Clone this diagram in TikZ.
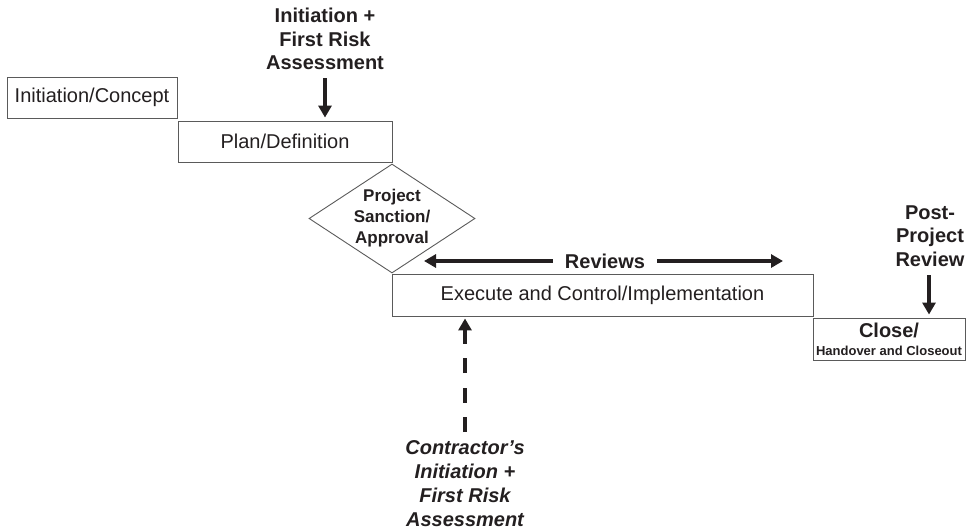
\documentclass[tikz,border=0pt]{standalone}
\usepackage{fontspec}
\setmainfont{Liberation Sans}
\usetikzlibrary{shapes.geometric,arrows.meta,calc}
\definecolor{ink}{HTML}{231F20}
\definecolor{frame}{HTML}{5A5A5A}
\begin{document}
\begin{tikzpicture}[x=1pt,y=-1pt,
  phase/.style={draw=frame,line width=0.9pt,rectangle,inner sep=0pt,text=ink,font=\fontsize{20}{23}\selectfont},
  gate/.style={draw=frame,line width=0.9pt,diamond,inner sep=0pt},
  gatetext/.style={text=ink,align=center,inner sep=0pt,font=\bfseries\fontsize{17}{21}\selectfont},
  tag/.style={text=ink,align=center,inner sep=0pt,font=\bfseries\fontsize{20}{23.5}\selectfont},
  itag/.style={tag,font=\bfseries\itshape\fontsize{20}{24}\selectfont},
  bigarrow/.style={draw=ink,line width=3.6pt,-{Triangle[width=13pt,length=12pt]}}
]
\useasboundingbox (0,0) rectangle (968,531);

% phase boxes
\node[phase,minimum width=170pt,minimum height=41pt] (concept) at (92,97.5) {Initiation/Concept};
\node[phase,minimum width=214pt,minimum height=41pt] (plan) at (285,141.5) {Plan/Definition};
\node[gate,minimum width=166pt,minimum height=109pt] (sanction) at (392,218.5) {};
\node[gatetext] (sanctiontext) at (sanction.center) {Project\\Sanction/\\Approval};
\node[phase,minimum width=421pt,minimum height=42pt] (execute) at (602.5,295) {Execute and Control/Implementation};
\node[phase,minimum width=152pt,minimum height=42pt,align=center] (close) at (889,339)
  {\textbf{Close/}\\[-5pt]{\bfseries\fontsize{13}{14}\selectfont Handover and Closeout}};

% labels
\node[tag] (initrisk) at (325,39) {Initiation +\\First Risk\\Assessment};
\node[tag] (reviews) at (605,261) {Reviews};
\node[tag] (postreview) at (930,236) {Post-\\Project\\Review};
\node[itag] (contractor) at (465,484) {Contractor’s\\Initiation +\\First Risk\\Assessment};

% free ends of the arrows
\coordinate (initA) at (325,78);
\coordinate (postA) at (929,275);
\coordinate (contrA) at (465,432);
\coordinate (revL) at (424,261);
\coordinate (revR) at (783,261);

% connectors
\draw[bigarrow] (initA) -- ($(initA |- plan.north)+(0,-3)$);
\draw[bigarrow] ($(reviews.west)+(-12,0)$) -- (revL);
\draw[bigarrow] ($(reviews.east)+(12,0)$) -- (revR);
\draw[bigarrow] (postA) -- ($(postA |- close.north)+(0,-3)$);
\draw[bigarrow,dash pattern=on 15pt off 14.5pt] (contrA) -- ($(contrA |- execute.south)+(0,2)$);
\end{tikzpicture}
\end{document}
